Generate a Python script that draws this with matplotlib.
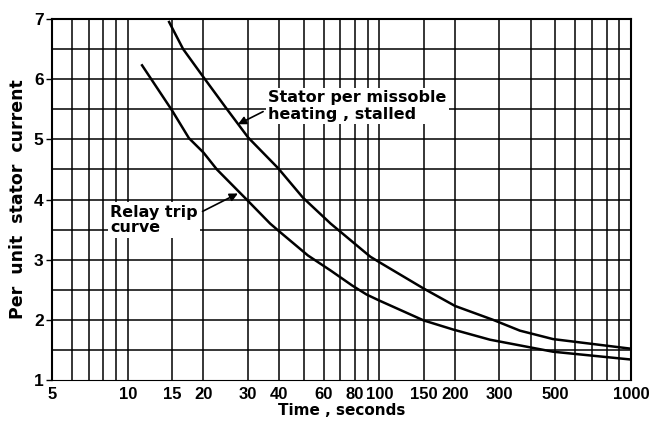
import matplotlib
matplotlib.use("Agg")
import matplotlib.pyplot as plt

# Data
stator_t = [14.6, 16.6, 19.7, 24.8, 30.1, 39.6, 49.7, 64, 92, 100.7, 150, 200, 283, 362, 490, 1000]
stator_i = [6.95, 6.5, 6.07, 5.5, 5.03, 4.52, 4.03, 3.6, 3.05, 2.95, 2.52, 2.23, 2.0, 1.82, 1.68, 1.52]

relay_t = [11.4, 15, 17.5, 20, 22.6, 30, 36.8, 40, 52, 64, 78, 89, 100, 150, 196, 275, 490, 1000]
relay_i = [6.23, 5.48, 5.02, 4.78, 4.5, 3.98, 3.6, 3.47, 3.07, 2.82, 2.57, 2.42, 2.32, 1.99, 1.84, 1.67, 1.47, 1.34]

x_grid = [5, 6, 7, 8, 9, 10, 15, 20, 30, 40, 50, 60, 70, 80, 90, 100, 150, 200, 300, 400, 500, 600, 700, 800, 900, 1000]
x_ticks = [5, 10, 15, 20, 30, 40, 60, 80, 100, 150, 200, 300, 500, 1000]
x_labels = ["5", "10", "15", "20", "30", "40", "60", "80", "100", "150", "200", "300", "500", "1000"]
y_grid = [1.5, 2, 2.5, 3, 3.5, 4, 4.5, 5, 5.5, 6, 6.5, 7]
y_ticks = [1, 2, 3, 4, 5, 6, 7]
y_labels = ["1", "2", "3", "4", "5", "6", "7"]

fnt = dict(family="DejaVu Sans", weight="bold")
tick_fnt = dict(family="Liberation Sans", weight="bold")

fig = plt.figure(figsize=(6.51, 4.25), dpi=100)
ax = fig.add_axes([52/651, 1-380/425, (631-52)/651, (380-19)/425])
ax.set_xscale("log")
ax.set_xlim(5, 1000)
ax.set_ylim(1, 7)

for xv in x_grid:
    ax.axvline(xv, color="black", lw=1.1, zorder=1)
for yv in y_grid:
    ax.axhline(yv, color="black", lw=1.1, zorder=1)

ax.plot(stator_t, stator_i, color="black", lw=1.8, zorder=3)
ax.plot(relay_t, relay_i, color="black", lw=1.8, zorder=3)

ax.set_xticks(x_ticks)
ax.set_xticklabels(x_labels, fontsize=12, **tick_fnt)
ax.minorticks_off()
ax.set_yticks(y_ticks)
ax.set_yticklabels(y_labels, fontsize=12.5, **tick_fnt)
ax.tick_params(axis="x", length=0, pad=5)
ax.tick_params(axis="y", length=4, width=1, pad=2)

for s in ["left", "top", "right"]:
    ax.spines[s].set_linewidth(1.5)
ax.spines["bottom"].set_linewidth(0.8)

ax.set_xlabel("Time , seconds", fontsize=11, labelpad=1, **fnt)
ax.set_ylabel("Per  unit  stator  current", fontsize=12.5, **fnt)
ax.yaxis.set_label_coords(-0.043, 0.5)

bbox = dict(boxstyle="square,pad=0.15", fc="white", ec="none")
ax.annotate("Stator per missoble\nheating , stalled", xy=(27.4, 5.25), xycoords="data",
            xytext=(268/651, 1-106/425), textcoords="figure fraction",
            ha="left", va="center", fontsize=11.5, linespacing=1.1, bbox=bbox, zorder=5,
            arrowprops=dict(arrowstyle="-|>", color="black", lw=1.2, shrinkA=2, shrinkB=0,
                            mutation_scale=12, relpos=(0.0, 0.4)), **fnt)
ax.annotate("Relay trip\ncurve", xy=(27.4, 4.1), xycoords="data",
            xytext=(110/651, 1-220/425), textcoords="figure fraction",
            ha="left", va="center", fontsize=11.5, linespacing=1.05, bbox=bbox, zorder=5,
            arrowprops=dict(arrowstyle="-|>", color="black", lw=1.2, shrinkA=2, shrinkB=0,
                            mutation_scale=12, relpos=(1.0, 0.7)), **fnt)

fig.savefig("out.png", dpi=100)
